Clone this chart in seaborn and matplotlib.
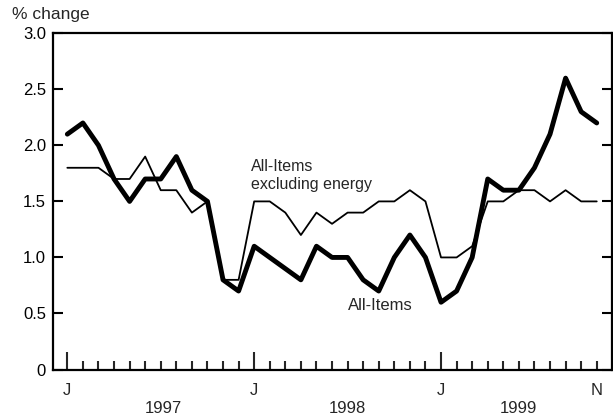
import matplotlib
matplotlib.use("Agg")
import matplotlib.pyplot as plt
import seaborn as sns
import pandas as pd
import numpy as np
from matplotlib.ticker import MultipleLocator, FixedLocator, FuncFormatter
import matplotlib.transforms as mtransforms

# Data: monthly, Jan 1997 - Nov 1999
all_items = [2.1, 2.2, 2.0, 1.7, 1.5, 1.7, 1.7, 1.9, 1.6, 1.5, 0.8, 0.7,
             1.1, 1.0, 0.9, 0.8, 1.1, 1.0, 1.0, 0.8, 0.7, 1.0, 1.2, 1.0,
             0.6, 0.7, 1.0, 1.7, 1.6, 1.6, 1.8, 2.1, 2.6, 2.3, 2.2]
ex_energy = [1.8, 1.8, 1.8, 1.7, 1.7, 1.9, 1.6, 1.6, 1.4, 1.5, 0.8, 0.8,
             1.5, 1.5, 1.4, 1.2, 1.4, 1.3, 1.4, 1.4, 1.5, 1.5, 1.6, 1.5,
             1.0, 1.0, 1.1, 1.5, 1.5, 1.6, 1.6, 1.5, 1.6, 1.5, 1.5]
month_labels = {0: "J", 12: "J", 24: "J", 34: "N"}
year_labels = ["1997", "1998", "1999"]
year_pos = [6.2, 18.0, 29.0]

sns.set_theme(style="white")
plt.rcParams['font.family'] = ['Liberation Sans', 'DejaVu Sans']

df = pd.DataFrame({
    "month": np.arange(len(all_items)),
    "all": all_items,
    "ex": ex_energy,
})

fig = plt.figure(figsize=(6.13, 4.19), dpi=100)
ax = fig.add_axes([53/613, 1 - 369.5/419, (612 - 53)/613, (369.5 - 33.3)/419])

sns.lineplot(data=df, x="month", y="ex", ax=ax, color="black", linewidth=1.3)
sns.lineplot(data=df, x="month", y="all", ax=ax, color="black", linewidth=3.5)

ax.set_xlim(-0.92, 34.98)
ax.set_ylim(0, 3.0)
ax.set_xlabel("")
ax.set_ylabel("")

for s in ax.spines.values():
    s.set_visible(True)
    s.set_color("black")
    s.set_linewidth(1.6)

ax.yaxis.set_major_locator(MultipleLocator(0.5))
ax.yaxis.set_major_formatter(FuncFormatter(lambda v, p: "0" if abs(v) < 1e-9 else f"{v:.1f}"))
ax.tick_params(axis="y", which="major", direction="in", length=7, width=1.5,
               left=True, right=True, labelsize=12, pad=5, colors="black")

ax.xaxis.set_major_locator(FixedLocator(list(month_labels.keys())[:3]))
ax.xaxis.set_minor_locator(FixedLocator([m for m in range(len(all_items)) if m not in (0, 12, 24)]))
ax.set_xticklabels([])
ax.tick_params(axis="x", which="major", direction="in", length=13, width=1.5,
               bottom=True, top=False)
ax.tick_params(axis="x", which="minor", direction="in", length=6.5, width=1.5,
               bottom=True, top=False)

trans = mtransforms.blended_transform_factory(ax.transData, fig.transFigure)
for m, lab in month_labels.items():
    ax.text(m, 1 - 390/419, lab, transform=trans, ha="center", va="center", fontsize=12)
for pos, lab in zip(year_pos, year_labels):
    ax.text(pos, 1 - 408.5/419, lab, transform=trans, ha="center", va="center", fontsize=12)

fig.text(12/613, 1 - 14/419, "% change", ha="left", va="center", fontsize=12.5)

ax.text(11.8, 1.73, "All-Items\nexcluding energy", ha="left", va="center",
        fontsize=11.5, linespacing=1.3)
ax.text(18.0, 0.57, "All-Items", ha="left", va="center", fontsize=12)

fig.savefig("out.png", dpi=100)
